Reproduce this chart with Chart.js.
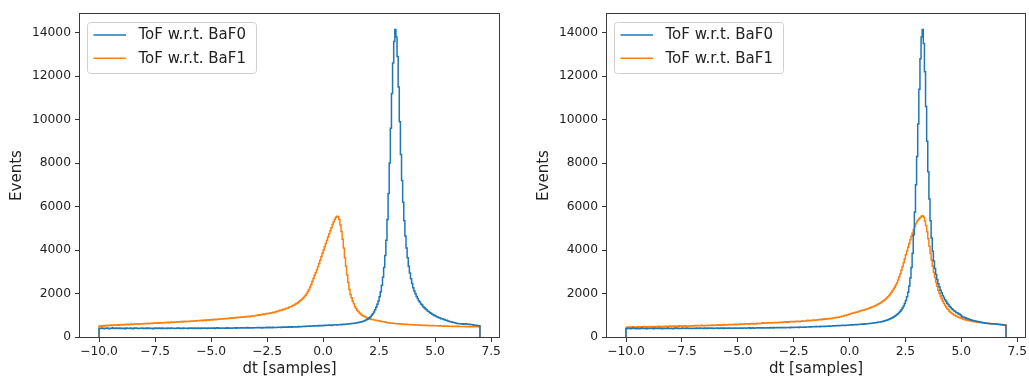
<!DOCTYPE html>
<html>
<head>
<meta charset="utf-8">
<script src="https://cdn.jsdelivr.net/npm/chart.js@4/dist/chart.umd.min.js"></script>
<style>
  html, body { margin: 0; padding: 0; background: #fff; }
  body { width: 1029px; height: 379px; position: relative; overflow: hidden; }
  .panel { position: absolute; top: 0; height: 379px; }
  #left { left: 0; width: 515px; }
  #right { left: 527px; width: 502px; }
</style>
</head>
<body>
<div class="panel" id="left"><canvas id="chartLeft" width="515" height="379"></canvas></div>
<div class="panel" id="right"><canvas id="chartRight" width="502" height="379"></canvas></div>
<script>
// histogram binning: 340 bins of 0.05 samples from -10 to 7
const BIN_START = -10;
const BIN_WIDTH = 0.05;

const seriesLabels = ['ToF w.r.t. BaF0', 'ToF w.r.t. BaF1'];

// left panel, counts per bin (one row = 1 sample)
const leftBaF0 = [
  395, 388, 412, 401, 379, 405, 398, 416, 390, 384, 407, 399, 421, 393, 386, 410, 402, 395, 414, 389,
  400, 392, 408, 385, 417, 398, 404, 391, 411, 396, 383, 409, 402, 419, 394, 388, 406, 399, 413, 391,
  403, 396, 410, 387, 415, 399, 392, 408, 384, 406, 412, 397, 390, 418, 401, 394, 409, 386, 404, 398,
  396, 411, 402, 389, 414, 399, 407, 393, 386, 410, 403, 417, 395, 401, 390, 412, 405, 398, 408, 394,
  409, 397, 415, 402, 391, 418, 404, 396, 411, 400, 393, 416, 407, 399, 413, 402, 395, 419, 406, 401,
  410, 403, 418, 396, 412, 421, 404, 415, 399, 409, 417, 402, 413, 406, 422, 400, 411, 418, 405, 414,
  412, 420, 407, 425, 415, 410, 423, 418, 429, 413, 421, 416, 432, 411, 426, 419, 428, 414, 424, 420,
  425, 432, 421, 436, 428, 419, 440, 431, 426, 443, 433, 427, 445, 436, 430, 447, 438, 442, 435, 449,
  444, 452, 439, 458, 448, 463, 451, 457, 446, 466, 459, 452, 470, 461, 468, 456, 474, 465, 479, 470,
  476, 485, 481, 494, 488, 499, 492, 503, 497, 510, 502, 515, 508, 519, 512, 506, 524, 517, 529, 522,
  528, 535, 524, 541, 537, 548, 543, 533, 552, 547, 558, 563, 554, 569, 562, 575, 568, 579, 586, 580,
  588, 594, 599, 606, 610, 618, 622, 631, 637, 646, 652, 663, 675, 688, 702, 718, 738, 758, 785, 812,
  845, 880, 935, 995, 1070, 1150, 1250, 1370, 1510, 1660, 1850, 2080, 2380, 2750, 3200, 3750, 4450, 5400, 6600, 8000,
  9600, 11200, 12600, 13600, 14150, 13800, 12900, 11500, 9900, 8400, 7200, 6200, 5350, 4650, 4100, 3650, 3250, 2950, 2680, 2460,
  2270, 2115, 1995, 1865, 1775, 1672, 1606, 1522, 1468, 1392, 1350, 1284, 1250, 1195, 1166, 1114, 1090, 1046, 1024, 985,
  965, 930, 918, 886, 876, 845, 836, 806, 800, 772, 765, 738, 730, 706, 700, 678, 672, 650, 645, 625,
  618, 605, 610, 598, 604, 590, 596, 608, 600, 588, 592, 578, 570, 562, 556, 545, 538, 528, 520, 512
];

const leftBaF1 = [
  505, 520, 498, 515, 530, 510, 526, 540, 518, 535, 548, 528, 542, 556, 535, 550, 563, 545, 558, 570,
  552, 566, 575, 558, 572, 585, 568, 580, 594, 576, 588, 601, 583, 596, 608, 590, 603, 615, 598, 610,
  622, 605, 618, 630, 612, 626, 638, 620, 633, 645, 628, 641, 654, 636, 649, 661, 644, 657, 670, 652,
  664, 677, 660, 672, 686, 668, 681, 694, 676, 690, 703, 685, 698, 712, 694, 708, 721, 703, 717, 730,
  712, 726, 740, 722, 736, 750, 732, 746, 760, 742, 757, 771, 753, 767, 782, 764, 778, 793, 775, 790,
  805, 787, 802, 817, 799, 814, 829, 811, 826, 842, 824, 839, 855, 837, 852, 868, 850, 866, 882, 864,
  880, 896, 878, 894, 910, 892, 908, 925, 906, 923, 940, 921, 938, 955, 936, 954, 971, 952, 970, 988,
  985, 1003, 1021, 1002, 1020, 1039, 1058, 1040, 1060, 1080, 1065, 1086, 1108, 1095, 1118, 1140, 1130, 1155, 1180, 1172,
  1198, 1225, 1215, 1243, 1272, 1265, 1295, 1326, 1322, 1355, 1390, 1392, 1428, 1466, 1475, 1515, 1558, 1575, 1620, 1668,
  1700, 1745, 1800, 1860, 1925, 2000, 2090, 2190, 2300, 2420, 2550, 2690, 2840, 2960, 3090, 3230, 3380, 3530, 3690, 3850,
  4000, 4150, 4300, 4450, 4600, 4750, 4890, 5030, 5170, 5300, 5420, 5510, 5560, 5530, 5400, 5150, 4850, 4500, 4100, 3650,
  3250, 2850, 2510, 2190, 1960, 1800, 1650, 1525, 1395, 1315, 1230, 1170, 1105, 1065, 1015, 990, 950, 935, 900, 890,
  860, 842, 830, 810, 800, 784, 778, 762, 756, 742, 738, 726, 718, 704, 698, 686, 672, 660, 648, 640,
  636, 628, 632, 618, 622, 610, 614, 602, 606, 595, 600, 588, 592, 580, 585, 574, 578, 566, 570, 560,
  562, 552, 558, 548, 552, 542, 548, 538, 544, 534, 540, 530, 536, 526, 532, 522, 528, 518, 524, 515,
  520, 512, 516, 506, 512, 502, 508, 498, 505, 495, 502, 492, 498, 490, 496, 486, 494, 484, 490, 482,
  490, 482, 488, 480, 486, 478, 484, 476, 482, 474, 480, 472, 478, 470, 476, 468, 474, 468, 472, 466
];

// right panel
const rightBaF0 = [
  380, 392, 402, 386, 375, 398, 410, 389, 396, 383, 404, 391, 380, 399, 412, 388, 395, 406, 384, 401,
  393, 386, 405, 398, 381, 410, 392, 400, 387, 414, 396, 402, 383, 408, 391, 399, 386, 411, 395, 389,
  402, 394, 385, 409, 397, 416, 390, 403, 396, 388, 411, 399, 406, 392, 414, 398, 387, 405, 401, 393,
  399, 408, 391, 413, 402, 387, 410, 398, 404, 395, 416, 400, 392, 409, 403, 397, 414, 401, 394, 407,
  398, 412, 404, 393, 416, 401, 409, 396, 419, 405, 398, 411, 403, 417, 400, 408, 414, 397, 410, 404,
  406, 415, 400, 412, 404, 419, 409, 401, 416, 411, 423, 405, 414, 420, 408, 418, 412, 425, 409, 420,
  415, 422, 410, 426, 418, 412, 429, 421, 416, 432, 424, 419, 435, 427, 421, 438, 429, 434, 425, 440,
  430, 437, 426, 442, 434, 440, 431, 447, 438, 444, 436, 451, 443, 449, 440, 456, 447, 453, 446, 460,
  452, 458, 465, 456, 470, 462, 468, 475, 466, 480, 472, 478, 486, 476, 490, 483, 488, 496, 487, 500,
  496, 504, 498, 510, 503, 515, 508, 520, 512, 526, 518, 530, 524, 536, 528, 540, 534, 546, 540, 552,
  550, 558, 554, 566, 560, 572, 568, 580, 575, 588, 584, 596, 592, 605, 600, 614, 610, 624, 620, 634,
  638, 646, 652, 660, 668, 676, 686, 695, 706, 718, 730, 745, 760, 776, 795, 815, 838, 862, 890, 920,
  955, 990, 1030, 1075, 1125, 1185, 1255, 1335, 1430, 1545, 1680, 1850, 2060, 2350, 2720, 3200, 3850, 4700, 5750, 7000,
  8300, 9800, 11400, 12800, 13800, 14150, 13500, 12200, 10600, 9000, 7600, 6350, 5350, 4550, 3950, 3500, 3150, 2870, 2640, 2450,
  2300, 2155, 2040, 1915, 1820, 1712, 1640, 1552, 1496, 1418, 1370, 1302, 1268, 1210, 1184, 1132, 1110, 1066, 1048, 1008,
  955, 925, 905, 880, 862, 838, 826, 804, 794, 774, 764, 746, 738, 720, 714, 698, 692, 678, 674, 660,
  652, 640, 636, 626, 622, 612, 608, 598, 604, 596, 600, 590, 584, 578, 572, 566, 560, 552, 546, 538
];

const rightBaF1 = [
  440, 455, 448, 462, 445, 458, 470, 452, 465, 448, 460, 474, 456, 468, 452, 466, 478, 461, 472, 458,
  470, 482, 465, 476, 488, 470, 481, 466, 478, 492, 474, 486, 472, 484, 497, 480, 491, 477, 489, 502,
  484, 496, 508, 490, 502, 488, 500, 512, 495, 507, 492, 504, 517, 499, 511, 497, 509, 522, 504, 516,
  508, 520, 533, 515, 527, 512, 525, 538, 520, 532, 518, 531, 544, 526, 538, 524, 537, 550, 532, 545,
  538, 550, 563, 545, 558, 544, 557, 570, 552, 565, 551, 564, 578, 560, 573, 559, 572, 586, 568, 581,
  576, 590, 603, 585, 598, 584, 597, 611, 593, 607, 592, 606, 620, 602, 616, 601, 615, 630, 612, 626,
  622, 636, 650, 632, 646, 631, 645, 660, 642, 656, 641, 655, 670, 652, 666, 651, 665, 681, 662, 677,
  672, 687, 702, 684, 699, 683, 698, 714, 696, 711, 695, 710, 726, 708, 723, 707, 722, 739, 720, 736,
  733, 749, 766, 748, 764, 750, 767, 784, 768, 786, 772, 790, 808, 793, 812, 798, 817, 836, 822, 842,
  830, 850, 842, 862, 856, 877, 872, 894, 890, 912, 910, 934, 933, 958, 958, 985, 987, 1015, 1018, 1048,
  1060, 1080, 1088, 1108, 1115, 1136, 1143, 1165, 1172, 1195, 1203, 1226, 1235, 1258, 1268, 1292, 1302, 1328, 1340, 1365,
  1380, 1405, 1425, 1452, 1475, 1505, 1530, 1562, 1592, 1628, 1665, 1705, 1750, 1800, 1855, 1915, 1980, 2050, 2125, 2205,
  2290, 2390, 2500, 2620, 2760, 2910, 3070, 3240, 3420, 3600, 3780, 3960, 4130, 4300, 4470, 4630, 4790, 4940, 5080, 5210,
  5310, 5385, 5455, 5495, 5555, 5580, 5505, 5335, 5125, 4845, 4520, 4175, 3855, 3545, 3255, 2975, 2745, 2515, 2335, 2155,
  2010, 1875, 1765, 1645, 1555, 1455, 1385, 1305, 1250, 1186, 1144, 1090, 1060, 1016, 994, 958, 942, 910, 898, 872,
  848, 825, 812, 792, 782, 764, 756, 742, 736, 722, 716, 704, 700, 688, 684, 674, 670, 660, 658, 648,
  645, 636, 638, 628, 630, 620, 622, 612, 614, 604, 606, 596, 598, 588, 588, 578, 576, 566, 562, 552
];

const xTickValues = [-10, -7.5, -5, -2.5, 0, 2.5, 5, 7.5];
const xTickLabels = ['\u221210.0', '\u22127.5', '\u22125.0', '\u22122.5', '0.0', '2.5', '5.0', '7.5'];
const yTickValues = [0, 2000, 4000, 6000, 8000, 10000, 12000, 14000];
const yTickLabels = ['0', '2000', '4000', '6000', '8000', '10000', '12000', '14000'];

const X_MIN = -10.85;
const X_MAX = 7.85;
const Y_MAX = 14860;

const BLUE = '#1f77b4';
const ORANGE = '#ff7f0e';
const FONT = 'DejaVu Sans';
const TEXT = '#222';

// outline of a step histogram: up at the first edge, down at the last one
function histPoints(counts) {
    const pts = [{x: BIN_START, y: 0}];
    counts.forEach((c, i) => {
        pts.push({x: +(BIN_START + i * BIN_WIDTH).toFixed(4), y: c});
    });
    const end = +(BIN_START + counts.length * BIN_WIDTH).toFixed(4);
    pts.push({x: end, y: counts[counts.length - 1]});
    pts.push({x: end, y: 0});
    return pts;
}

// axes frame (all four spines) and the matplotlib-like legend inside the plot
const framePlugin = {
    id: 'frameAndLegend',
    afterDatasetsDraw(chart) {
        const {ctx, chartArea} = chart;
        const l = Math.round(chartArea.left), t = Math.round(chartArea.top);
        const r = Math.round(chartArea.right), b = Math.round(chartArea.bottom);

        ctx.save();
        ctx.strokeStyle = '#3a3a3a';
        ctx.lineWidth = 1;
        ctx.strokeRect(l - 0.5, t - 0.5, r - l + 1, b - t + 1);

        // legend box
        const bx = l + 7.5, by = t + 8.5, bw = 169, bh = 51, rad = 3;
        ctx.beginPath();
        ctx.moveTo(bx + rad, by);
        ctx.arcTo(bx + bw, by, bx + bw, by + bh, rad);
        ctx.arcTo(bx + bw, by + bh, bx, by + bh, rad);
        ctx.arcTo(bx, by + bh, bx, by, rad);
        ctx.arcTo(bx, by, bx + bw, by, rad);
        ctx.closePath();
        ctx.fillStyle = 'rgba(255,255,255,0.8)';
        ctx.fill();
        ctx.strokeStyle = '#d0d0d0';
        ctx.stroke();

        ctx.font = '15px "' + FONT + '"';
        ctx.textBaseline = 'middle';
        ctx.textAlign = 'left';
        chart.data.datasets.forEach((ds, i) => {
            const y = t + 21 + i * 23.3;
            ctx.strokeStyle = ds.borderColor;
            ctx.lineWidth = 1.5;
            ctx.beginPath();
            ctx.moveTo(l + 13.5, y);
            ctx.lineTo(l + 46, y);
            ctx.stroke();
            ctx.fillStyle = TEXT;
            ctx.fillText(ds.label, l + 58.5, y + 0.5);
        });
        ctx.restore();
    }
};

function makeChart(canvasId, series0, series1, rightPad) {
    const ctx = document.getElementById(canvasId).getContext('2d');
    const tickGrid = {
        display: true,
        drawOnChartArea: false,
        drawTicks: true,
        tickLength: 5,
        tickColor: '#333',
        tickWidth: 1
    };

    return new Chart(ctx, {
        type: 'line',
        data: {
            datasets: [
                {label: seriesLabels[0], data: histPoints(series0), borderColor: BLUE},
                {label: seriesLabels[1], data: histPoints(series1), borderColor: ORANGE}
            ]
        },
        options: {
            responsive: false,
            animation: false,
            parsing: false,
            normalized: true,
            datasets: {
                line: {
                    stepped: true,
                    borderWidth: 1.5,
                    pointRadius: 0,
                    fill: false,
                    tension: 0
                }
            },
            layout: {padding: {top: 14, right: rightPad, left: 0, bottom: 0}},
            plugins: {
                legend: {display: false},
                tooltip: {enabled: false}
            },
            scales: {
                x: {
                    type: 'linear',
                    min: X_MIN,
                    max: X_MAX,
                    afterBuildTicks: s => { s.ticks = xTickValues.map(v => ({value: v})); },
                    afterFit: s => { s.height = 42; },
                    grid: tickGrid,
                    border: {display: false},
                    ticks: {
                        autoSkip: false,
                        maxRotation: 0,
                        padding: 2,
                        color: TEXT,
                        font: {family: FONT, size: 12.3},
                        callback: (v, i) => xTickLabels[i]
                    },
                    title: {
                        display: true,
                        text: 'dt [samples]',
                        color: TEXT,
                        font: {family: FONT, size: 15},
                        padding: {top: 0, bottom: 1}
                    }
                },
                y: {
                    type: 'linear',
                    min: 0,
                    max: Y_MAX,
                    afterBuildTicks: s => { s.ticks = yTickValues.map(v => ({value: v})); },
                    afterFit: s => { s.width = 80; },
                    grid: tickGrid,
                    border: {display: false},
                    ticks: {
                        padding: 4,
                        color: TEXT,
                        font: {family: FONT, size: 12.3},
                        callback: (v, i) => yTickLabels[i]
                    },
                    title: {
                        display: true,
                        text: 'Events',
                        color: TEXT,
                        font: {family: FONT, size: 15},
                        padding: {top: 8, bottom: 0}
                    }
                }
            }
        },
        plugins: [framePlugin]
    });
}

makeChart('chartLeft', leftBaF0, leftBaF1, 16);
makeChart('chartRight', rightBaF0, rightBaF1, 2);
</script>
</body>
</html>
